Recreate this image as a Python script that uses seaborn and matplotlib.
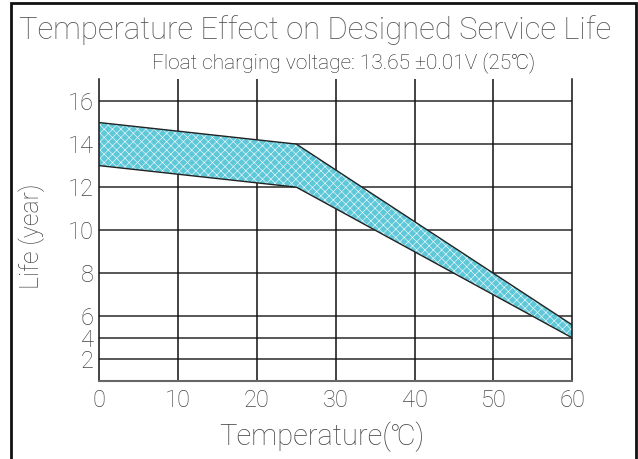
import numpy as np
import pandas as pd
import matplotlib
matplotlib.use("Agg")
import matplotlib.pyplot as plt
import matplotlib.patches as mpatches
import seaborn as sns

# data
temp = [0, 25, 60]
life_upper = [15, 14, 5.2]
life_lower = [13, 12, 4]
x_ticks = [0, 10, 20, 30, 40, 50, 60]
y_ticks = [2, 4, 6, 8, 10, 12, 14, 16]

sns.set_style("white")
fams = ["Roboto", "DejaVu Sans"]
plt.rcParams["font.family"] = fams
plt.rcParams["font.weight"] = "light"
plt.rcParams["axes.labelweight"] = "light"
plt.rcParams["hatch.linewidth"] = 0.4

txt = "#444444"

d = pd.DataFrame({"temp": temp, "upper": life_upper, "lower": life_lower})


# y axis is squeezed to half scale below 6
def fwd(y):
    y = np.asarray(y, dtype=float)
    return np.where(y >= 6, y, 3 + y / 2.0)


def inv(p):
    p = np.asarray(p, dtype=float)
    return np.where(p >= 6, p, (p - 3) * 2.0)


fig = plt.figure(figsize=(6.38, 4.59), dpi=100)
ax = fig.add_axes([0.1556, 0.170, 0.7414, 0.6568])
ax.set_yscale("function", functions=(fwd, inv))

ax.fill_between(d["temp"], d["lower"], d["upper"], facecolor="#5ec8d8",
                edgecolor="white", hatch="xxxx", linewidth=0, zorder=2)
sns.lineplot(data=d, x="temp", y="upper", color="#222222", lw=1.0, ax=ax, zorder=3)
sns.lineplot(data=d, x="temp", y="lower", color="#222222", lw=1.0, ax=ax, zorder=3)

ax.set_xlim(0, 60)
ax.set_ylim(0, 17)
ax.set_xticks(x_ticks)
ax.set_yticks(y_ticks)
ax.tick_params(length=0, labelsize=17, labelcolor=txt)
ax.tick_params(axis="x", pad=6)
ax.tick_params(axis="y", pad=4)

for y in y_ticks:
    ax.axhline(y, color="#4a4a4a", lw=1.3, zorder=1)
for x in x_ticks[1:-1]:
    ax.axvline(x, color="#111111", lw=1.1, zorder=1)

for s in ["left", "right"]:
    ax.spines[s].set_color("#111111")
    ax.spines[s].set_linewidth(1.1)
ax.spines["bottom"].set_color("#666666")
ax.spines["bottom"].set_linewidth(1.5)
ax.spines["top"].set_visible(False)

ax.set_xlabel("Temperature(℃)", fontsize=21, color=txt)
ax.xaxis.set_label_coords(0.47, -0.135)
ax.set_ylabel("Life (year)", fontsize=18, color=txt)
ax.yaxis.set_label_coords(-0.115, 0.48)

fig.text(0.494, 0.935, "Temperature Effect on Designed Service Life",
         ha="center", va="center", fontsize=22.3, color="#555555")
fig.text(0.539, 0.863, "Float charging voltage: 13.65 ±0.01V (25℃)",
         ha="center", va="center", fontsize=15, color="#222222")

fig.patches.append(mpatches.Rectangle((11 / 638, -0.02), 625 / 638, 1.0135,
                                      transform=fig.transFigure, fill=False,
                                      edgecolor="#111111", lw=2))

fig.savefig("out.png", dpi=100)
